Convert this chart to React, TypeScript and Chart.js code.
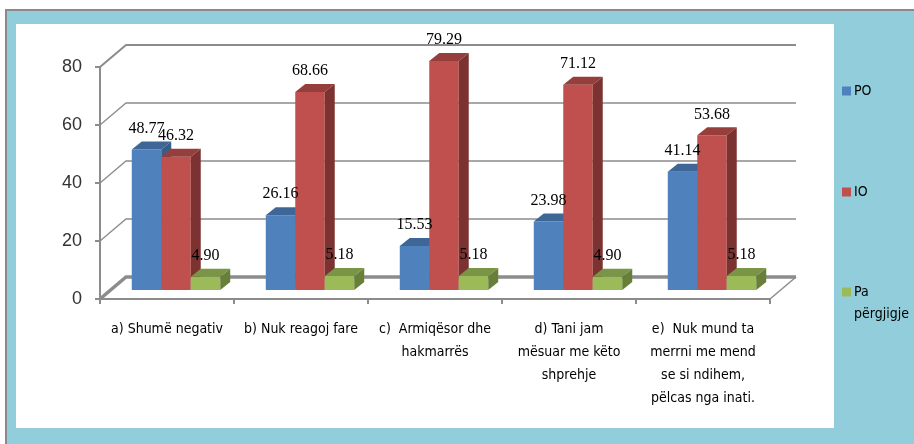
import React, { useEffect, useRef } from 'react';
import { Chart, registerables } from 'chart.js';

Chart.register(...registerables);

const categories: string[][] = [
  ['a) Shumë negativ'],
  ['b) Nuk reagoj fare'],
  ['c)  Armiqësor dhe', 'hakmarrës'],
  ['d) Tani jam', 'mësuar me këto', 'shprehje'],
  ['e)  Nuk mund ta', 'merrni me mend', 'se si ndihem,', 'pëlcas nga inati.'],
];
const seriesNames = ['PO', 'IO', 'Pa përgjigje'];
const legendLines = [['PO'], ['IO'], ['Pa', 'përgjigje']];
const poValues = [48.77, 26.16, 15.53, 23.98, 41.14];
const ioValues = [46.32, 68.66, 79.29, 71.12, 53.68];
const paValues = [4.9, 5.18, 5.18, 4.9, 5.18];
const yMin = 0;
const yMax = 80;
const yStep = 20;

const frontColors = ['#4f81bd', '#c0504d', '#9bbb59'];
const topColors = ['#3e6797', '#963e3b', '#7a9545'];
const sideColors = ['#385d89', '#7c3230', '#687f3a'];

const WALL = { dx: 26, dy: -22 };
const PLANE = { dx: 9, dy: -8 };
const DEPTH = { dx: 10, dy: -8 };
const GRID = '#8c8c8c';
const NARROW = "'Liberation Sans Narrow', 'DejaVu Sans Condensed', 'Liberation Sans', sans-serif";

const threeD = {
  id: 'threeD',
  beforeDraw(chart: any) {
    const { ctx, width, height } = chart;
    ctx.save();
    ctx.fillStyle = '#ffffff';
    ctx.fillRect(0, 0, width, height);
    ctx.fillStyle = '#8a8a8a';
    ctx.fillRect(5, 9, width - 5, 2);
    ctx.fillRect(5, 9, 2, height - 9);
    ctx.fillStyle = '#92cddc';
    ctx.fillRect(7, 11, width - 7, height - 11);
    ctx.fillStyle = '#ffffff';
    ctx.fillRect(16, 24, 818, 404);
    ctx.restore();
  },
  beforeDatasetsDraw(chart: any) {
    const { ctx, chartArea } = chart;
    const y = chart.scales.y;
    ctx.save();
    ctx.strokeStyle = GRID;
    ctx.lineCap = 'butt';
    y.ticks.forEach((t: any) => {
      const py = y.getPixelForValue(t.value);
      ctx.lineWidth = t.value === 0 ? 3.5 : t.value === yMax ? 2 : 1.3;
      ctx.beginPath();
      ctx.moveTo(chartArea.left, py);
      ctx.lineTo(chartArea.left + WALL.dx, py + WALL.dy);
      ctx.lineTo(chartArea.right + WALL.dx, py + WALL.dy);
      ctx.stroke();
    });
    const p0 = y.getPixelForValue(0);
    ctx.lineWidth = 1.5;
    ctx.beginPath();
    ctx.moveTo(chartArea.right, p0);
    ctx.lineTo(chartArea.right + WALL.dx, p0 + WALL.dy);
    ctx.stroke();
    ctx.restore();

    ctx.save();
    ctx.translate(PLANE.dx, PLANE.dy);
    const labels: any[] = [];
    chart.data.datasets.forEach((ds: any, i: number) => {
      const meta = chart.getDatasetMeta(i);
      meta.data.forEach((bar: any, j: number) => {
        bar.draw(ctx);
        const { x: cx, y: top, base, width } = bar.getProps(['x', 'y', 'base', 'width'], true);
        const x0 = cx - width / 2;
        const x1 = cx + width / 2;
        ctx.fillStyle = topColors[i];
        ctx.beginPath();
        ctx.moveTo(x0, top);
        ctx.lineTo(x1, top);
        ctx.lineTo(x1 + DEPTH.dx, top + DEPTH.dy);
        ctx.lineTo(x0 + DEPTH.dx, top + DEPTH.dy);
        ctx.closePath();
        ctx.fill();
        ctx.fillStyle = sideColors[i];
        ctx.beginPath();
        ctx.moveTo(x1, top);
        ctx.lineTo(x1 + DEPTH.dx, top + DEPTH.dy);
        ctx.lineTo(x1 + DEPTH.dx, base + DEPTH.dy);
        ctx.lineTo(x1, base);
        ctx.closePath();
        ctx.fill();
        labels.push({ x: cx, y: top + DEPTH.dy - 13, text: Number(ds.data[j]).toFixed(2) });
      });
    });
    ctx.fillStyle = '#000000';
    ctx.font = "16px 'Liberation Serif', serif";
    ctx.textAlign = 'center';
    ctx.textBaseline = 'middle';
    labels.forEach((l) => ctx.fillText(l.text, l.x, l.y));
    ctx.restore();
    return false;
  },
  afterDraw(chart: any) {
    const { ctx } = chart;
    const ys = [91, 192, 292];
    ctx.save();
    ctx.font = `14px ${NARROW}`;
    ctx.textBaseline = 'middle';
    ctx.textAlign = 'left';
    chart.data.datasets.forEach((ds: any, i: number) => {
      ctx.fillStyle = ds.backgroundColor;
      ctx.fillRect(842, ys[i] - 4.5, 9, 9);
      ctx.fillStyle = '#000000';
      legendLines[i].forEach((line, k) => ctx.fillText(line, 854, ys[i] + k * 22));
    });
    ctx.restore();
  },
};

export default function App() {
  const ref = useRef<HTMLCanvasElement>(null);
  useEffect(() => {
    if (!ref.current) return;
    const chart = new Chart(ref.current, {
      type: 'bar',
      data: {
        labels: categories,
        datasets: [
          { label: seriesNames[0], data: poValues, backgroundColor: frontColors[0] },
          { label: seriesNames[1], data: ioValues, backgroundColor: frontColors[1] },
          { label: seriesNames[2], data: paValues, backgroundColor: frontColors[2] },
        ],
      },
      options: {
        responsive: false,
        animation: false,
        devicePixelRatio: 1,
        layout: { padding: { left: 60, right: 144, top: 67, bottom: 15 } },
        plugins: { legend: { display: false }, tooltip: { enabled: false } },
        datasets: { bar: { categoryPercentage: 0.66, barPercentage: 1 } },
        scales: {
          x: {
            grid: { display: true, drawOnChartArea: false, drawTicks: true, tickLength: 5, color: GRID, lineWidth: 2, offset: true },
            border: { display: true, color: GRID, width: 2 },
            ticks: {
              color: '#000000',
              padding: 14,
              maxRotation: 0,
              autoSkip: false,
              font: { family: NARROW, size: 14, lineHeight: '23px' },
            },
            afterFit: (s: any) => { s.height = 130; },
          },
          y: {
            min: yMin,
            max: yMax,
            grid: { display: true, drawOnChartArea: false, drawTicks: true, tickLength: 5, color: GRID, lineWidth: 2 },
            border: { display: true, color: GRID, width: 2 },
            ticks: {
              stepSize: yStep,
              color: '#333333',
              padding: 13,
              font: { family: "'Liberation Sans', sans-serif", size: 18 },
            },
            afterFit: (s: any) => { s.width = 40; },
          },
        },
      },
      plugins: [threeD],
    } as any);
    return () => chart.destroy();
  }, []);
  return (
    <div style={{ position: 'fixed', left: 0, top: 0, width: 914, height: 444, background: '#fff' }}>
      <canvas ref={ref} width={914} height={444} style={{ display: 'block', width: 914, height: 444 }} />
    </div>
  );
}
